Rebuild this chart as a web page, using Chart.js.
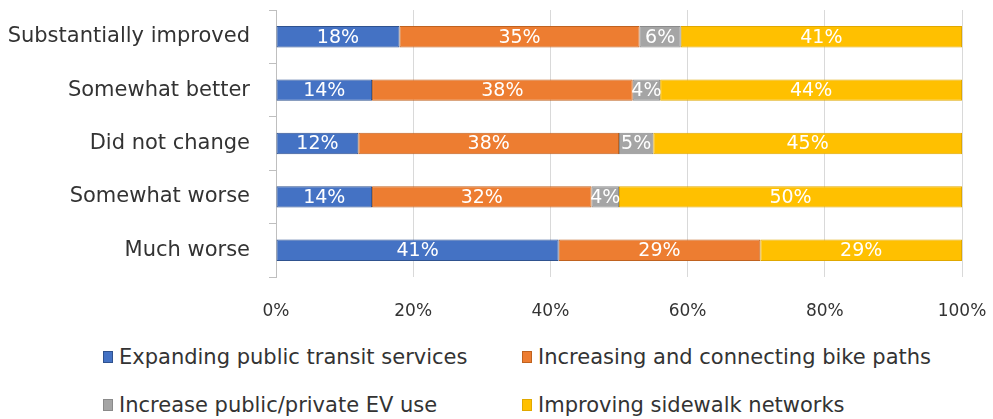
<!DOCTYPE html>
<html>
<head>
<meta charset="utf-8">
<script src="https://cdn.jsdelivr.net/npm/chart.js@4.4.1/dist/chart.umd.min.js"></script>
<style>
  body { margin: 0; background: #fff; }
  #wrap { position: relative; width: 993px; height: 419px; overflow: hidden; }
  #myCanvas { position: absolute; left: 0; top: 0; }
  #legend {
    position: absolute; left: 103px; top: 333px;
    display: grid; grid-template-columns: 419px 470px; grid-auto-rows: 48px;
    font-family: "DejaVu Sans", sans-serif; font-size: 21px; color: #333;
  }
  .item { display: flex; align-items: center; white-space: nowrap; }
  .box { width: 10px; height: 12px; margin-right: 6px; box-sizing: border-box; border: 1px solid; }
</style>
</head>
<body>
<div id="wrap">
  <canvas id="myCanvas" width="993" height="330"></canvas>
  <div id="legend"></div>
</div>
<script>
const categories = ["Substantially improved", "Somewhat better", "Did not change", "Somewhat worse", "Much worse"];
const seriesNames = ["Expanding public transit services", "Increasing and connecting bike paths", "Increase public/private EV use", "Improving sidewalk networks"];
const transit = [18, 14, 12, 14, 41.2];
const bikePaths = [35, 38, 38, 32, 29.4];
const evUse = [6, 4, 5, 4, 0];
const sidewalks = [41, 44, 45, 50, 29.4];
const xTicks = [0, 20, 40, 60, 80, 100];

const colors = ["#4472C4", "#ED7D31", "#A5A5A5", "#FFC000"];
const borders = ["#2F528F", "#C0621F", "#8A8A8A", "#E0A800"];
const values = [transit, bikePaths, evUse, sidewalks];

const myCanvas = document.getElementById("myCanvas");

const barLabels = {
    id: "barLabels",
    afterDatasetsDraw(chart) {
        const ctx = chart.ctx;
        ctx.save();
        ctx.fillStyle = "#fff";
        ctx.font = "19px 'DejaVu Sans'";
        ctx.textAlign = "center";
        ctx.textBaseline = "middle";
        chart.data.datasets.forEach((ds, i) => {
            chart.getDatasetMeta(i).data.forEach((bar, j) => {
                const v = ds.data[j];
                if (!v) return;
                const p = bar.getProps(["x", "y", "base"], true);
                ctx.fillText(Math.round(v) + "%", (p.x + p.base) / 2, p.y + 1);
            });
        });
        ctx.restore();
    }
};

function noPad(scale) {
    scale.paddingTop = 0;
    scale.paddingBottom = 0;
    scale.paddingLeft = 0;
    scale.paddingRight = 0;
}

let datasets = [];
seriesNames.forEach((name, i) => {
    datasets.push({
        label: name,
        data: values[i],
        backgroundColor: colors[i],
        borderColor: borders[i],
        borderWidth: 1,
        borderSkipped: false
    });
});

const gChart = new Chart(myCanvas, {
    type: "bar",
    data: { labels: categories, datasets: datasets },
    plugins: [barLabels],
    options: {
        indexAxis: "y",
        responsive: false,
        animation: false,
        barPercentage: 0.4,
        categoryPercentage: 1.0,
        layout: { padding: { top: 10, right: 31, left: 0, bottom: 0 } },
        scales: {
            x: {
                stacked: true,
                min: 0,
                max: 100,
                afterBuildTicks: scale => { scale.ticks = xTicks.map(v => ({ value: v })); },
                afterFit: scale => { scale.height = 53; noPad(scale); },
                grid: { color: "#d9d9d9", drawTicks: false },
                border: { display: false },
                ticks: {
                    padding: 24,
                    color: "#333",
                    font: { family: "DejaVu Sans", size: 17 },
                    callback: v => v + "%"
                }
            },
            y: {
                stacked: true,
                afterFit: scale => { scale.width = 276; noPad(scale); },
                grid: { drawOnChartArea: false, drawTicks: true, tickLength: 7, color: "#bfbfbf", offset: true },
                border: { color: "#bfbfbf" },
                ticks: {
                    padding: 19,
                    color: "#333",
                    font: { family: "DejaVu Sans", size: 21 }
                }
            }
        },
        plugins: {
            legend: { display: false },
            tooltip: { enabled: false }
        }
    }
});

const legend = document.getElementById("legend");
[0, 1, 2, 3].forEach(i => {
    const item = document.createElement("div");
    item.className = "item";
    const box = document.createElement("span");
    box.className = "box";
    box.style.background = colors[i];
    box.style.borderColor = borders[i];
    const txt = document.createElement("span");
    txt.textContent = seriesNames[i];
    item.appendChild(box);
    item.appendChild(txt);
    legend.appendChild(item);
});
</script>
</body>
</html>
